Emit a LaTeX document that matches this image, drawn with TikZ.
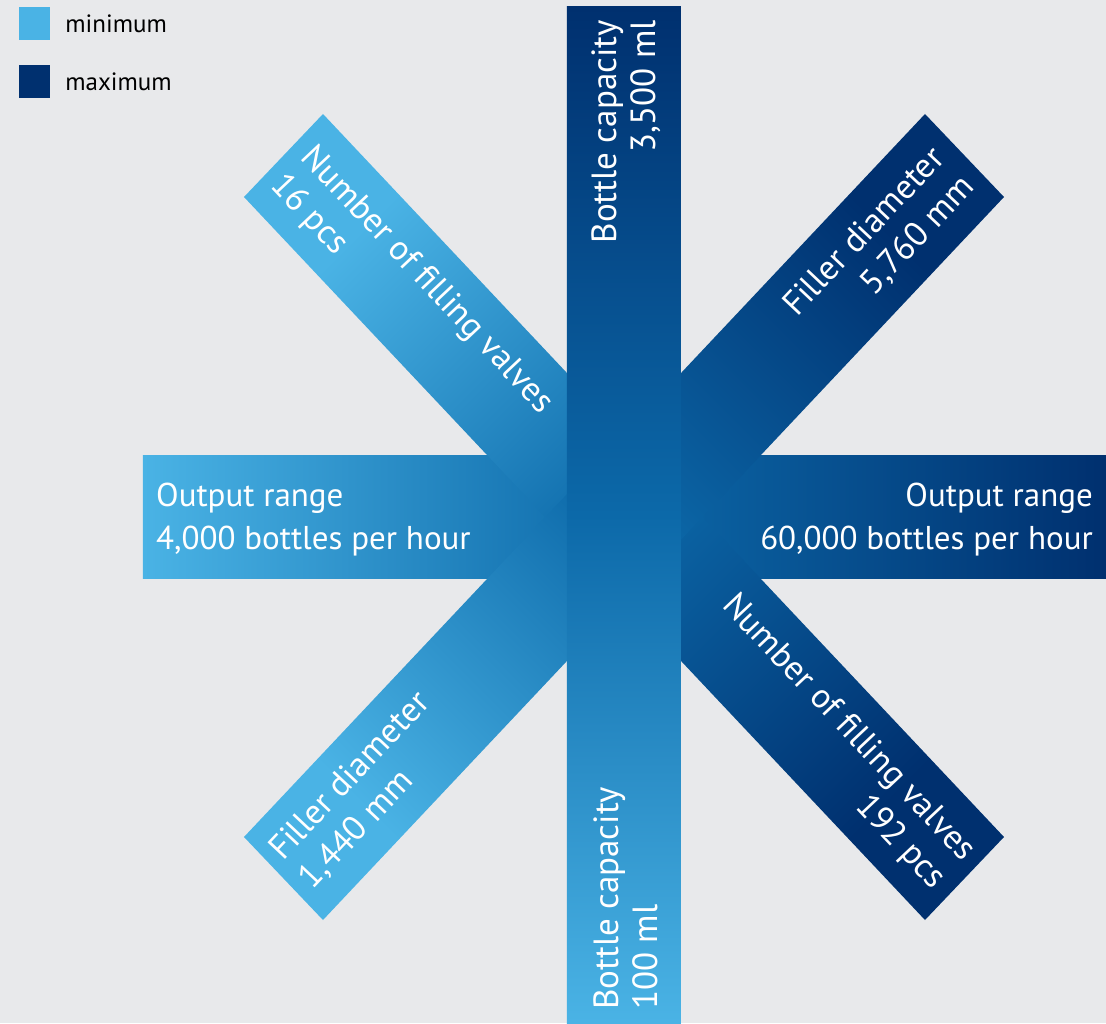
\documentclass[tikz,border=0pt]{standalone}
\usepackage{fontspec}
\setmainfont{PT Sans}
\usetikzlibrary{positioning}
\definecolor{bggray}{HTML}{E8E9EB}
\definecolor{minblue}{HTML}{4AB3E5}
\definecolor{midblue}{HTML}{0C69A9}
\definecolor{maxblue}{HTML}{00306F}

\begin{document}
\begin{tikzpicture}[x=1pt, y=1pt,
    bar/.style = {top color=maxblue, bottom color=minblue, middle color=midblue},
    hlabel/.style = {text=white, inner xsep=13pt, inner ysep=0pt, font=\fontsize{33}{43}\selectfont},
    vlabel/.style = {hlabel, rotate=90, font=\fontsize{35}{39}\selectfont},
    dlabel/.style = {hlabel, font=\fontsize{34.5}{41}\selectfont},
    key/.style = {minimum width=31pt, minimum height=33pt, inner sep=0pt},
    keytext/.style = {inner sep=0pt, font=\fontsize{25}{28}\selectfont}]
    \fill[bggray] (-624,-506) rectangle (482,517);
    \useasboundingbox (-624,-506) rectangle (482,517);

    % bars: horizontal, the two diagonals, vertical on top
    \shade[bar, shading angle=-90] (-481,-61) rectangle (482,61);
    \shade[bar, top color=minblue, bottom color=maxblue, middle color=midblue, shading angle=45]
        (-380,320) -- (-301,403) -- (380,-320) -- (301,-403) -- cycle;
    \shade[bar, shading angle=-45]
        (-380,-320) -- (-301,-403) -- (380,320) -- (301,403) -- cycle;
    \shade[bar] (-57,-506) rectangle (57,510);

    \coordinate (w) at (-481,-3);
    \coordinate (e) at (482,-3);
    \coordinate (n) at (2,510);
    \coordinate (s) at (2,-506);
    \coordinate (nw) at (-342,360);
    \coordinate (se) at (339,-363);
    \coordinate (ne) at (339,359);
    \coordinate (sw) at (-342,-362);

    \node[hlabel, anchor=west, align=left] (outmin) at (w) {Output range\\4,000 bottles per hour};
    \node[hlabel, anchor=east, align=right] (outmax) at (e) {Output range\\60,000 bottles per hour};
    \node[vlabel, anchor=east, align=right] (capmax) at (n) {Bottle capacity\\3,500 ml};
    \node[vlabel, anchor=west, align=left] (capmin) at (s) {Bottle capacity\\100 ml};
    \node[dlabel, rotate=-46.7, anchor=west, align=left] (valvemin) at (nw) {Number of filling valves\\16 pcs};
    \node[dlabel, rotate=-46.7, anchor=east, align=right] (valvemax) at (se) {Number of filling valves\\192 pcs};
    \node[dlabel, rotate=46.7, anchor=east, align=right] (diammax) at (ne) {Filler diameter\\5,760 mm};
    \node[dlabel, rotate=46.7, anchor=west, align=left] (diammin) at (sw) {Filler diameter\\1,440 mm};

    % legend
    \node[key, fill=minblue] (keymin) at (-589.5,493.5) {};
    \node[key, fill=maxblue] (keymax) at (-589.5,435.5) {};
    \node[keytext, right=15pt of keymin] (txtmin) {minimum};
    \node[keytext, right=15pt of keymax] (txtmax) {maximum};
\end{tikzpicture}
\end{document}
